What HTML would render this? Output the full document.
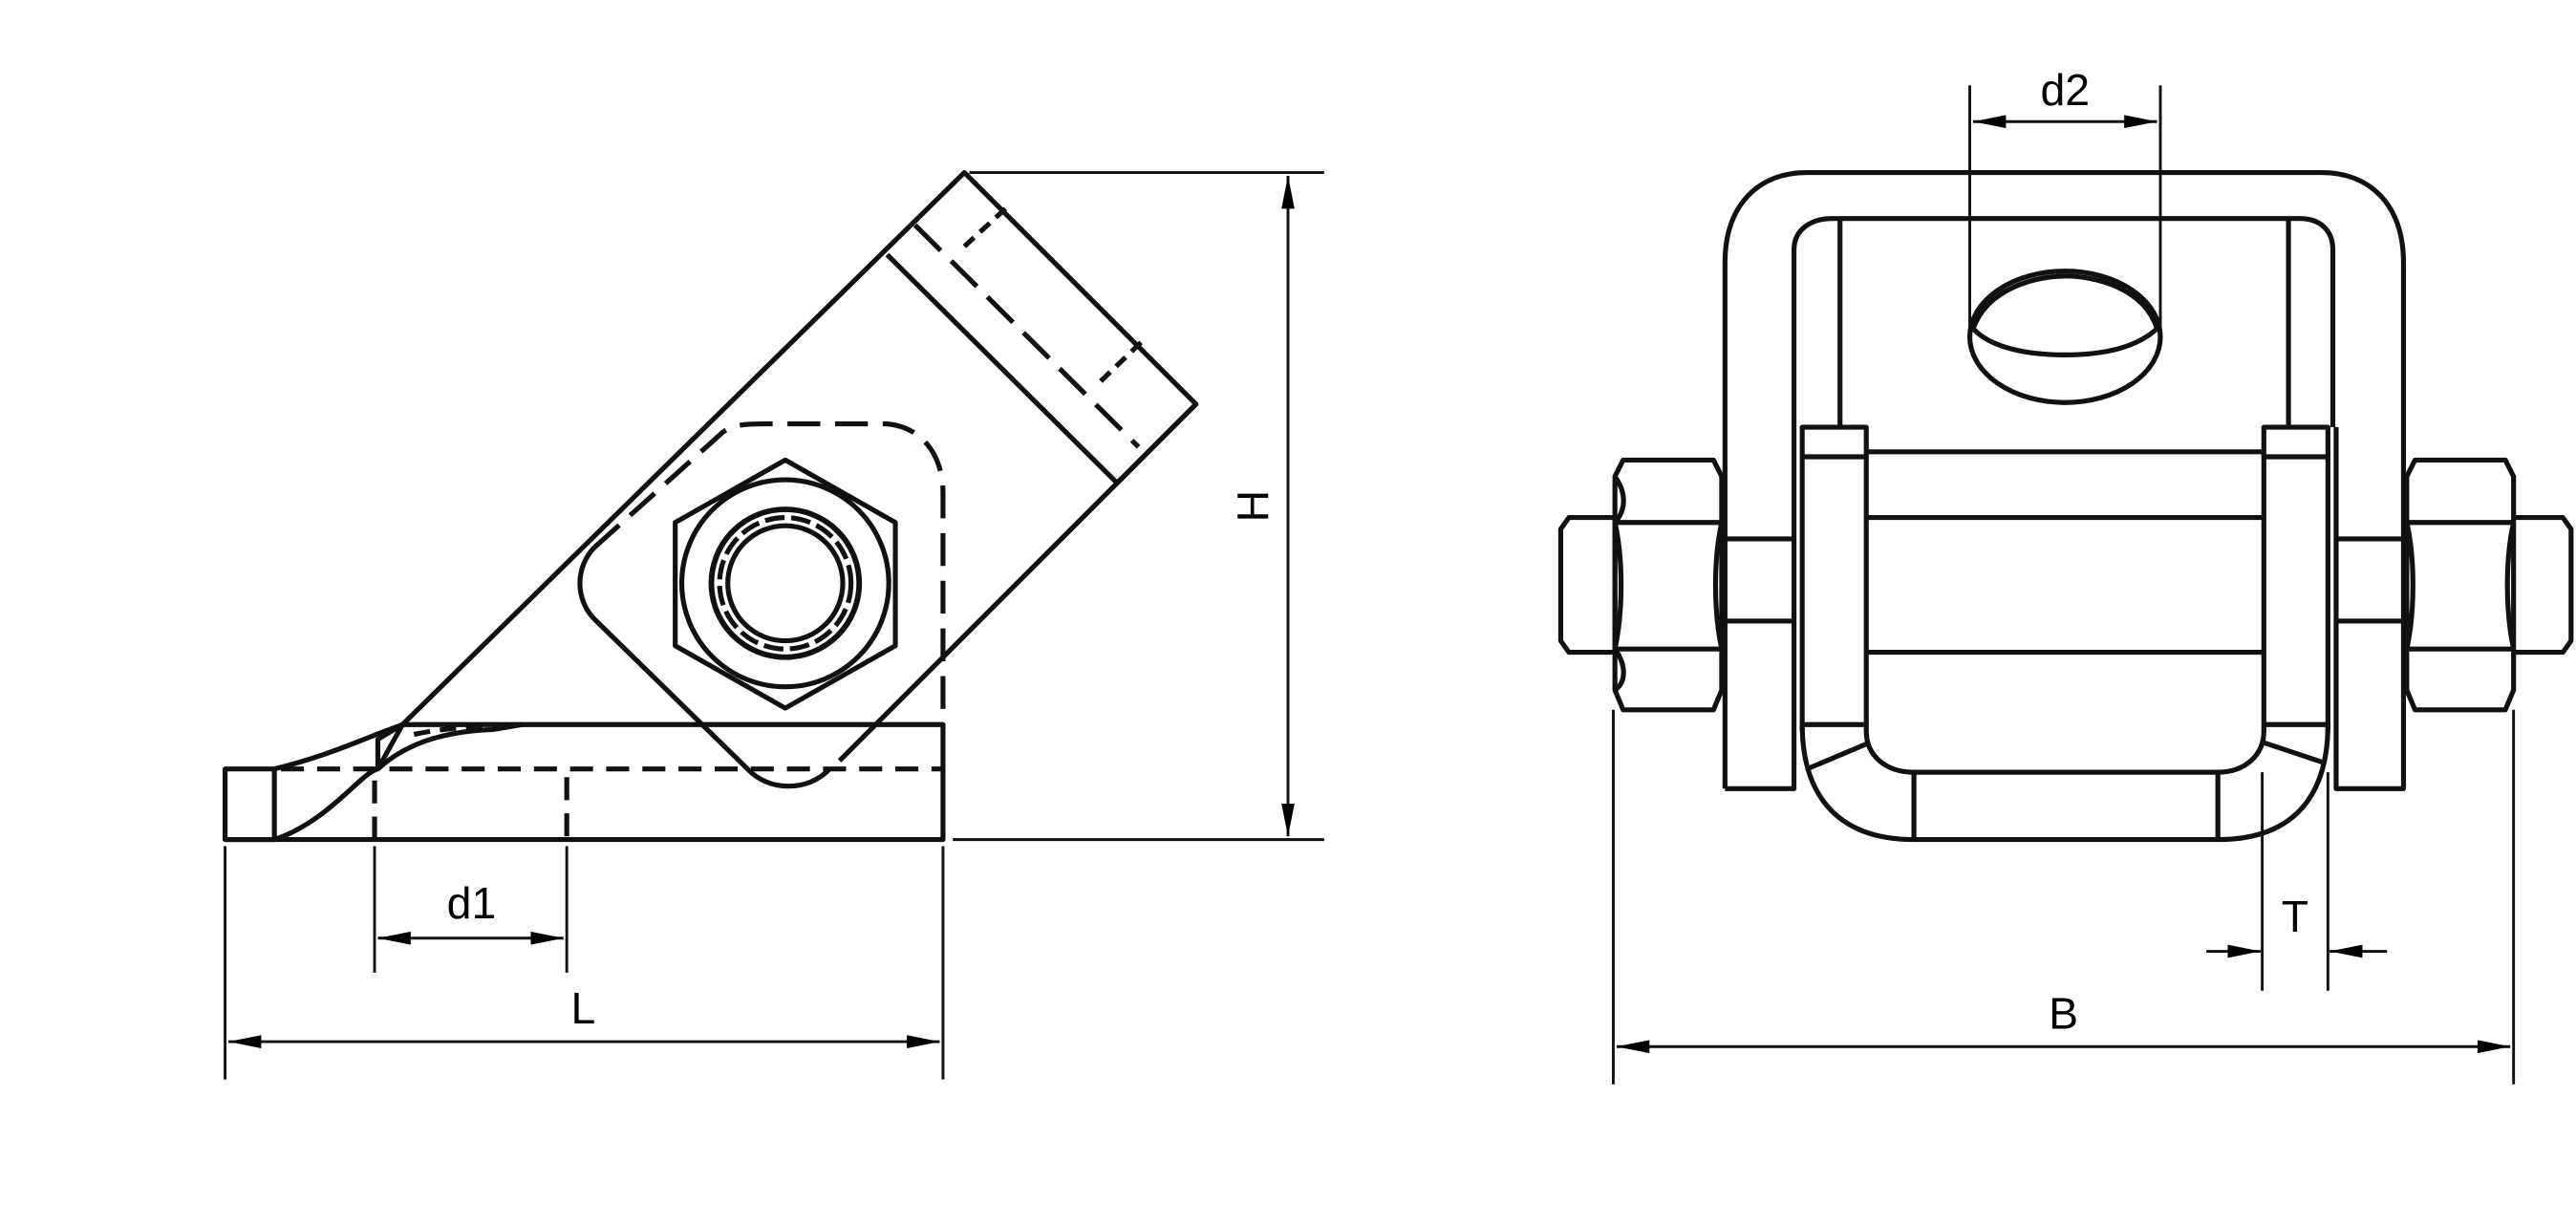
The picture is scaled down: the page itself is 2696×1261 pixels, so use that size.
<!DOCTYPE html>
<html><head><meta charset="utf-8"><style>
html,body{margin:0;padding:0;background:#fff;}
svg{display:block;}
text{font-family:"Liberation Sans",sans-serif;font-size:27px;fill:#000;}
</style></head><body>
<svg width="2696" height="1261" viewBox="0 0 1568 733.4" xmlns="http://www.w3.org/2000/svg">
<defs>
<marker id="a" viewBox="0 0 20 8" refX="20" refY="4" markerWidth="20" markerHeight="8" markerUnits="userSpaceOnUse" orient="auto-start-reverse"><path d="M0,0 L20,4 L0,8 z" fill="#000"/></marker>
</defs>
<g fill="none" stroke="#111" stroke-width="3" stroke-linejoin="round">
<path d="M137,468 H167 V511 H137 Z"/>
<path d="M137,511 H574 V441 H245"/>
<path d="M167,468 C200,460 220,450 245,441"/>
<path d="M167,511 C200,500 220,470 230,468 C250,450 275,445 300,444 L318,441"/>
<path d="M230,468 L230,450 L245,441 L230,468"/>
<path d="M171,468 H574" stroke-dasharray="14,8"/>
<path d="M252,447 C270,443 290,442 318,441" stroke-dasharray="10,6"/>
<path d="M228,475 V511 M345,473 V511" stroke-dasharray="14,8"/>
<path d="M245,441 L587,105 L728,246 L511,463"/>
<path d="M540,155 L680,294"/>
<path d="M557,137 L693,272" stroke-dasharray="22,9"/>
<path d="M587,150 L612,127 M670,232 L695,208" stroke-dasharray="8,5"/>
<path d="M680,294 L728,246" />
<path d="M362,333 C350,345 350,365 362,377 L455,468 C468,482 492,482 505,468"/>
<path d="M362,333 L440,263 C448,258 455,258 465,258 H540 C562,260 574,278 574,300 V440" stroke-dasharray="20,9"/>
<path d="M478,280 L545,318 L545,393 L478,431 L411,393 L411,318 Z"/>
<circle cx="478" cy="355" r="63"/>
<circle cx="478" cy="355" r="45" stroke-width="3.4"/>
<circle cx="478" cy="355" r="40" stroke-dasharray="12,4"/>
<circle cx="478" cy="355" r="35"/>
<g stroke-width="1.7">
<path d="M590,105 H806 M580,511 H806"/>
<path d="M784,107 V509" marker-start="url(#a)" marker-end="url(#a)"/>
<path d="M137,515 V657 M574,515 V657"/>
<path d="M139,634 H572" marker-start="url(#a)" marker-end="url(#a)"/>
<path d="M228,515 V592 M345,515 V592"/>
<path d="M230,571 H343" marker-start="url(#a)" marker-end="url(#a)"/>
</g>
<path d="M1050,480 V160 C1050,125 1070,105 1100,105 H1413 C1443,105 1463,125 1463,160 V480 H1422 V260"/>
<path d="M1050,480 H1092 V152 C1092,140 1102,133 1115,133 H1400 C1412,133 1420,140 1420,152 V260"/>
<path d="M1120,133 V260 M1393,133 V260"/>
<ellipse cx="1257" cy="205" rx="58" ry="40"/>
<path d="M1201,200 C1210,175 1240,168 1257,168 C1275,168 1305,175 1313,200 C1300,212 1280,216 1257,216 C1235,216 1212,212 1201,200"/>
<path d="M1136,275 H1378 M1136,315 H1378 M1136,397 H1378"/>
<path d="M1136,278 V445 C1136,460 1148,470 1165,470 H1350 C1366,470 1378,460 1378,445 V278"/>
<path d="M1097,260 H1136 V278 H1097 Z M1378,260 H1417 V278 H1378 Z"/>
<path d="M1097,278 V445 M1417,278 V445 M1097,441 H1136 M1378,441 H1417"/>
<path d="M1097,441 C1097,480 1115,511 1165,511 H1350 C1400,511 1417,480 1417,441"/>
<path d="M1165,470 V511 M1350,470 V511"/>
<path d="M1100,468 L1138,452 M1414,464 L1378,452"/>
<path d="M988,280 H1043 L1048,290 V420 L1043,432 H988 L983,420 V290 Z"/>
<path d="M983,318 H1048 M983,395 H1048"/>
<path d="M983,318 C988,340 988,372 983,395 M1048,318 C1043,340 1043,372 1048,395"/>
<path d="M983,290 C990,300 990,310 983,318 M983,395 C990,405 990,415 983,420"/>
<path d="M955,315 H983 V397 H955 L950,390 V322 Z"/>
<path d="M1048,328 H1092 M1048,378 H1092"/>
<path d="M1470,280 H1525 L1530,290 V420 L1525,432 H1470 L1465,420 V290 Z"/>
<path d="M1465,318 H1530 M1465,395 H1530"/>
<path d="M1465,318 C1470,340 1470,372 1465,395 M1530,318 C1525,340 1525,372 1530,395"/>
<path d="M1530,315 H1560 L1565,322 V390 L1560,397 H1530"/>
<path d="M1422,328 H1465 M1422,378 H1465"/>
<g stroke-width="1.7">
<path d="M1199,52 V200 M1315,52 V200"/>
<path d="M1201,74 H1313" marker-start="url(#a)" marker-end="url(#a)"/>
<path d="M982,432 V660 M1530,432 V660"/>
<path d="M984,637 H1528" marker-start="url(#a)" marker-end="url(#a)"/>
<path d="M1377,470 V603 M1417,470 V603"/>
<path d="M1343,579 H1376" marker-end="url(#a)"/>
<path d="M1453,579 H1418" marker-end="url(#a)"/>
</g>
</g>
<text x="287" y="559" text-anchor="middle">d1</text>
<text x="355" y="623" text-anchor="middle">L</text>
<text x="763" y="308" text-anchor="middle" transform="rotate(-90 763 308)" dy="9">H</text>
<text x="1257" y="64" text-anchor="middle">d2</text>
<text x="1397" y="567" text-anchor="middle">T</text>
<text x="1256" y="626" text-anchor="middle">B</text>
</svg>
</body></html>
